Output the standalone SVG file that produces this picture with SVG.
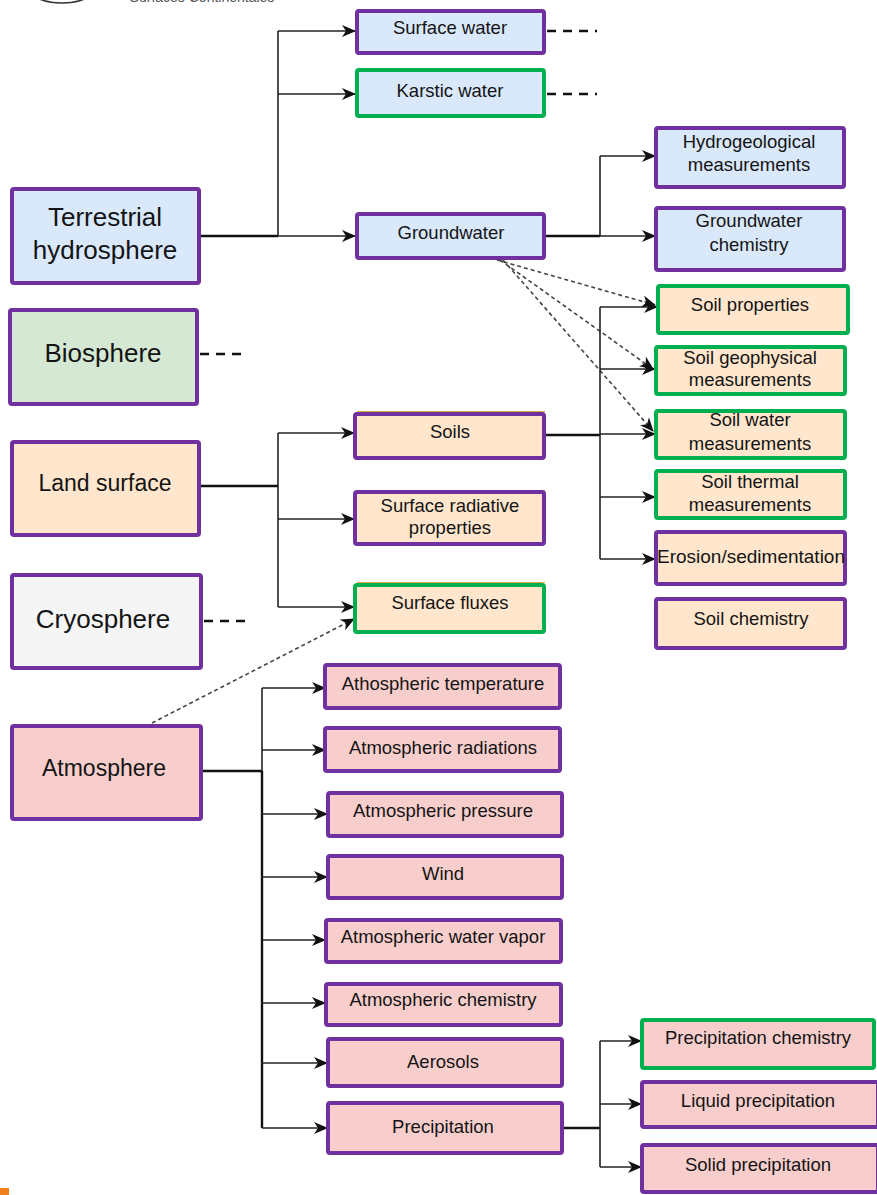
<svg xmlns="http://www.w3.org/2000/svg" width="877" height="1195" viewBox="0 0 877 1195">
  <style>
    .box { stroke-width: 4; }
    .pur { stroke: #7030a0; }
    .grn { stroke: #00b050; }
    .blue { fill: #dae8fc; }
    .org { fill: #ffe6cc; }
    .pink { fill: #f8cecc; }
    .bio { fill: #d5e8d4; }
    .grey { fill: #f5f5f5; }
    text { font-family: "Liberation Sans", Arial, sans-serif; fill: #141414; text-anchor: middle; }
    .big { font-size: 26px; }
    .mid { font-size: 23px; }
    .sm { font-size: 18.5px; }
    .link { fill: none; stroke: #222; stroke-width: 1.6; }
    .trunk { fill: none; stroke: #111; stroke-width: 2.4; }
    .dot { fill: none; stroke: #444; stroke-width: 1.6; stroke-dasharray: 4 3; }
    .stub { fill: none; stroke: #111; stroke-width: 2.6; stroke-dasharray: 9 7; }
    .edge { stroke: #e6a640; stroke-width: 1; }
  </style>
  <defs>
    <marker id="arr" viewBox="0 0 14 12" refX="13" refY="6" markerWidth="14" markerHeight="12" markerUnits="userSpaceOnUse" orient="auto">
      <path d="M0,0 L14,6 L0,12 L4,6 z" fill="#111"/>
    </marker>
  </defs>

  <rect width="877" height="1195" fill="#ffffff"/>

  <!-- logo fragment at the top edge -->
  <g id="logo">
    <ellipse cx="62" cy="-8" rx="29" ry="11" fill="none" stroke="#333" stroke-width="1.6"/>
    <text x="202" y="2" style="font-size:14px;fill:#555;">Surfaces Continentales</text>
  </g>

  <!-- connectors -->
  <g id="connectors">
    <!-- terrestrial hydrosphere -->
    <path class="trunk" d="M200,236 H278"/>
    <path class="link" d="M278,236 V31"/>
    <path class="link" d="M278,31 H355" marker-end="url(#arr)"/>
    <path class="link" d="M278,94 H355" marker-end="url(#arr)"/>
    <path class="link" d="M278,236 H355" marker-end="url(#arr)"/>
    <path class="stub" d="M547,31 H597"/>
    <path class="stub" d="M547,94 H597"/>
    <!-- groundwater -->
    <path class="trunk" d="M545,236 H600"/>
    <path class="link" d="M600,236 V156"/>
    <path class="link" d="M600,156 H655" marker-end="url(#arr)"/>
    <path class="link" d="M600,236 H655" marker-end="url(#arr)"/>
    <path class="dot" d="M497,260 L655,305" marker-end="url(#arr)"/>
    <path class="dot" d="M500,260 L653,369" marker-end="url(#arr)"/>
    <path class="dot" d="M503,260 L653,431" marker-end="url(#arr)"/>
    <!-- biosphere / cryosphere stubs -->
    <path class="stub" d="M200,354 H246"/>
    <path class="stub" d="M204,621 H246"/>
    <!-- land surface -->
    <path class="trunk" d="M200,486 H278"/>
    <path class="link" d="M278,433 V607"/>
    <path class="link" d="M278,433 H354" marker-end="url(#arr)"/>
    <path class="link" d="M278,519 H354" marker-end="url(#arr)"/>
    <path class="link" d="M278,607 H354" marker-end="url(#arr)"/>
    <!-- soils -->
    <path class="trunk" d="M545,435 H600"/>
    <path class="link" d="M600,307 V559"/>
    <path class="link" d="M600,307 H657" marker-end="url(#arr)"/>
    <path class="link" d="M600,369 H655" marker-end="url(#arr)"/>
    <path class="link" d="M600,434 H655" marker-end="url(#arr)"/>
    <path class="link" d="M600,497 H655" marker-end="url(#arr)"/>
    <path class="link" d="M600,559 H655" marker-end="url(#arr)"/>
    <!-- atmosphere -> surface fluxes -->
    <path class="dot" d="M152,723 L354,619" marker-end="url(#arr)"/>
    <!-- atmosphere -->
    <path class="trunk" d="M202,771 H262"/>
    <path class="link" d="M262,688 V1128"/>
    <path class="trunk" d="M262,771 V1128"/>
    <path class="link" d="M262,688 H325" marker-end="url(#arr)"/>
    <path class="link" d="M262,750 H325" marker-end="url(#arr)"/>
    <path class="link" d="M262,814 H327" marker-end="url(#arr)"/>
    <path class="link" d="M262,877 H327" marker-end="url(#arr)"/>
    <path class="link" d="M262,940 H325" marker-end="url(#arr)"/>
    <path class="link" d="M262,1003 H325" marker-end="url(#arr)"/>
    <path class="link" d="M262,1063 H327" marker-end="url(#arr)"/>
    <path class="link" d="M262,1128 H327" marker-end="url(#arr)"/>
    <!-- precipitation -->
    <path class="trunk" d="M563,1128 H600"/>
    <path class="link" d="M600,1041 V1167"/>
    <path class="link" d="M600,1041 H641" marker-end="url(#arr)"/>
    <path class="link" d="M600,1104 H641" marker-end="url(#arr)"/>
    <path class="link" d="M600,1167 H641" marker-end="url(#arr)"/>
  </g>

  <!-- top-level compartments -->
  <g id="terrestrial-hydrosphere">
    <rect class="box pur blue" x="12" y="189" width="187" height="94" rx="2"/>
    <text class="big" x="105" y="226">Terrestrial</text>
    <text class="big" x="105" y="259">hydrosphere</text>
  </g>
  <g id="biosphere">
    <rect class="box pur bio" x="10" y="310" width="187" height="94" rx="2"/>
    <text class="big" x="103" y="362">Biosphere</text>
  </g>
  <g id="land-surface">
    <rect class="box pur org" x="12" y="442" width="187" height="93" rx="2"/>
    <text class="mid" x="105" y="491">Land surface</text>
  </g>
  <g id="cryosphere">
    <rect class="box pur grey" x="12" y="575" width="189" height="93" rx="2"/>
    <text class="big" x="103" y="628">Cryosphere</text>
  </g>
  <g id="atmosphere">
    <rect class="box pur pink" x="12" y="726" width="189" height="93" rx="2"/>
    <text class="mid" x="104" y="776">Atmosphere</text>
  </g>

  <!-- hydrosphere branches -->
  <g id="surface-water">
    <rect class="box pur blue" x="357" y="11" width="187" height="42" rx="2"/>
    <text class="sm" x="450" y="33.5">Surface water</text>
  </g>
  <g id="karstic-water">
    <rect class="box grn blue" x="357" y="70" width="187" height="46" rx="2"/>
    <text class="sm" x="450" y="96.5">Karstic water</text>
  </g>
  <g id="groundwater">
    <rect class="box pur blue" x="357" y="214" width="187" height="44" rx="2"/>
    <text class="sm" x="451" y="238.5">Groundwater</text>
  </g>
  <g id="hydrogeological-measurements">
    <rect class="box pur blue" x="656" y="128" width="188" height="59" rx="2"/>
    <text class="sm" x="749" y="147.5">Hydrogeological</text>
    <text class="sm" x="749" y="170.5">measurements</text>
  </g>
  <g id="groundwater-chemistry">
    <rect class="box pur blue" x="656" y="208" width="188" height="62" rx="2"/>
    <text class="sm" x="749" y="226.5">Groundwater</text>
    <text class="sm" x="749" y="250.5">chemistry</text>
  </g>

  <!-- land surface branches -->
  <g id="soils">
    <line class="edge" x1="357" y1="411.5" x2="545" y2="411.5"/>
    <rect class="box pur org" x="355" y="414" width="189" height="44" rx="2"/>
    <text class="sm" x="450" y="437.5">Soils</text>
  </g>
  <g id="surface-radiative-properties">
    <line class="edge" x1="357" y1="490.5" x2="545" y2="490.5"/>
    <rect class="box pur org" x="355" y="492" width="189" height="52" rx="2"/>
    <text class="sm" x="450" y="511.5">Surface radiative</text>
    <text class="sm" x="450" y="533.5">properties</text>
  </g>
  <g id="surface-fluxes">
    <line class="edge" x1="357" y1="582.5" x2="545" y2="582.5"/>
    <rect class="box grn org" x="355" y="585" width="189" height="47" rx="2"/>
    <text class="sm" x="450" y="608.5">Surface fluxes</text>
  </g>

  <!-- soil branches -->
  <g id="soil-properties">
    <rect class="box grn org" x="658" y="286" width="190" height="47" rx="2"/>
    <text class="sm" x="750" y="311">Soil properties</text>
  </g>
  <g id="soil-geophysical-measurements">
    <rect class="box grn org" x="656" y="347" width="189" height="47" rx="2"/>
    <text class="sm" x="750" y="363.5">Soil geophysical</text>
    <text class="sm" x="750" y="385.5">measurements</text>
  </g>
  <g id="soil-water-measurements">
    <rect class="box grn org" x="656" y="411" width="189" height="47" rx="2"/>
    <text class="sm" x="750" y="426">Soil water</text>
    <text class="sm" x="750" y="449.5">measurements</text>
  </g>
  <g id="soil-thermal-measurements">
    <rect class="box grn org" x="656" y="471" width="189" height="47" rx="2"/>
    <text class="sm" x="750" y="487.5">Soil thermal</text>
    <text class="sm" x="750" y="510.5">measurements</text>
  </g>
  <g id="erosion-sedimentation">
    <rect class="box pur org" x="656" y="532" width="189" height="52" rx="2"/>
    <text class="sm" x="751" y="562.5" style="font-size:19px">Erosion/sedimentation</text>
  </g>
  <g id="soil-chemistry">
    <rect class="box pur org" x="656" y="599" width="189" height="49" rx="2"/>
    <text class="sm" x="751" y="624.5">Soil chemistry</text>
  </g>

  <!-- atmosphere branches -->
  <g id="atmospheric-temperature">
    <rect class="box pur pink" x="325" y="665" width="235" height="43" rx="2"/>
    <text class="sm" x="443" y="689.5">Athospheric temperature</text>
  </g>
  <g id="atmospheric-radiations">
    <rect class="box pur pink" x="325" y="728" width="235" height="43" rx="2"/>
    <text class="sm" x="443" y="753.5">Atmospheric radiations</text>
  </g>
  <g id="atmospheric-pressure">
    <rect class="box pur pink" x="328" y="793" width="234" height="43" rx="2"/>
    <text class="sm" x="443" y="816.5">Atmospheric pressure</text>
  </g>
  <g id="wind">
    <rect class="box pur pink" x="328" y="856" width="234" height="42" rx="2"/>
    <text class="sm" x="443" y="879.5">Wind</text>
  </g>
  <g id="atmospheric-water-vapor">
    <rect class="box pur pink" x="326" y="920" width="235" height="42" rx="2"/>
    <text class="sm" x="443" y="942.5">Atmospheric water vapor</text>
  </g>
  <g id="atmospheric-chemistry">
    <rect class="box pur pink" x="326" y="984" width="235" height="41" rx="2"/>
    <text class="sm" x="443" y="1005.5">Atmospheric chemistry</text>
  </g>
  <g id="aerosols">
    <rect class="box pur pink" x="328" y="1039" width="234" height="47" rx="2"/>
    <text class="sm" x="443" y="1067.5">Aerosols</text>
  </g>
  <g id="precipitation">
    <rect class="box pur pink" x="328" y="1103" width="234" height="50" rx="2"/>
    <text class="sm" x="443" y="1132.5">Precipitation</text>
  </g>

  <!-- precipitation branches -->
  <g id="precipitation-chemistry">
    <rect class="box grn pink" x="642" y="1020" width="232" height="48" rx="2"/>
    <text class="sm" x="758" y="1043.5">Precipitation chemistry</text>
  </g>
  <g id="liquid-precipitation">
    <rect class="box pur pink" x="642" y="1082" width="236" height="45" rx="2"/>
    <text class="sm" x="758" y="1106.5">Liquid precipitation</text>
  </g>
  <g id="solid-precipitation">
    <rect class="box pur pink" x="642" y="1145" width="236" height="47" rx="2"/>
    <text class="sm" x="758" y="1170.5">Solid precipitation</text>
  </g>

  <!-- corner mark -->
  <rect x="0" y="1188" width="9" height="7" fill="#f07f1e"/>
</svg>
